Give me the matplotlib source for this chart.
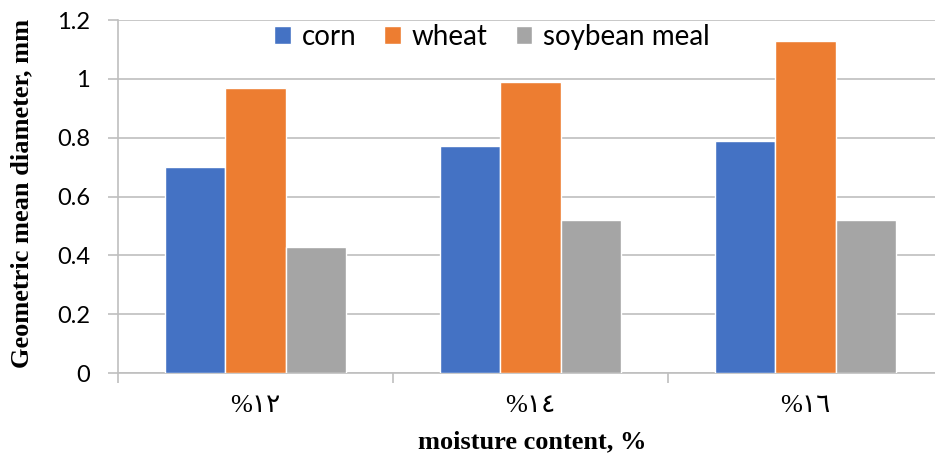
import numpy as np
import matplotlib.pyplot as plt

# data
categories = ["%" + "١٢", "%" + "١٤", "%" + "١٦"]
series_names = ["corn", "wheat", "soybean meal"]
corn = [0.70, 0.77, 0.79]
wheat = [0.97, 0.99, 1.13]
soybean = [0.43, 0.52, 0.52]
colors = ["#4472C4", "#ED7D31", "#A5A5A5"]
yticks = [0, 0.2, 0.4, 0.6, 0.8, 1.0, 1.2]
ytick_labels = ["0", "0.2", "0.4", "0.6", "0.8", "1", "1.2"]

W, H = 935, 458
fig = plt.figure(figsize=(W / 100, H / 100), dpi=100)
# plot area in pixels: x 118..943, y 20..373
ax = fig.add_axes([118 / W, (H - 373) / H, (943 - 118) / W, (373 - 20) / H])

x = np.arange(len(categories))
bw = 0.22
for i, (vals, name) in enumerate(zip([corn, wheat, soybean], series_names)):
    ax.bar(x + (i - 1) * bw, vals, width=bw, color=colors[i], label=name,
           edgecolor="white", linewidth=1.0, zorder=3)

ax.set_xlim(-0.5, len(categories) - 0.5)
ax.set_ylim(0, 1.2)

grid_c = "#BFBFBF"
ax.set_yticks(yticks)
ax.set_yticklabels(ytick_labels, fontsize=17, family="Lato")
ax.yaxis.grid(True, color=grid_c, linewidth=1.2, zorder=0)
ax.tick_params(axis="y", length=7, color=grid_c, width=1.2, pad=13)

# category boundary ticks (major) and labels at centres (minor)
ax.set_xticks(np.arange(len(categories) + 1) - 0.5)
ax.set_xticklabels([])
ax.tick_params(axis="x", which="major", length=7, color=grid_c, width=1.2)
ax.set_xticks(x, minor=True)
ax.set_xticklabels(categories, minor=True, fontsize=19,
                   family=["Liberation Serif", "DejaVu Sans"])
ax.tick_params(axis="x", which="minor", length=0, pad=16)

for s in ["top", "right"]:
    ax.spines[s].set_visible(False)
for s in ["left", "bottom"]:
    ax.spines[s].set_color(grid_c)
    ax.spines[s].set_linewidth(1.2)

fig.text(22 / W, 1 - 193 / H, "Geometric mean diameter, mm", fontsize=19,
         fontweight="bold", family="Liberation Serif", rotation=90,
         ha="center", va="center")
fig.text(532 / W, 1 - 442 / H, "moisture content, %", fontsize=19,
         fontweight="bold", family="Liberation Serif", ha="center", va="center")

fig.legend(loc="center", bbox_to_anchor=(492 / W, 1 - 37 / H), ncol=3,
           frameon=False, prop={"family": "Lato", "size": 20},
           handlelength=0.6, handleheight=0.6, handletextpad=0.4,
           columnspacing=1.0)

fig.savefig("out.png", dpi=100)
